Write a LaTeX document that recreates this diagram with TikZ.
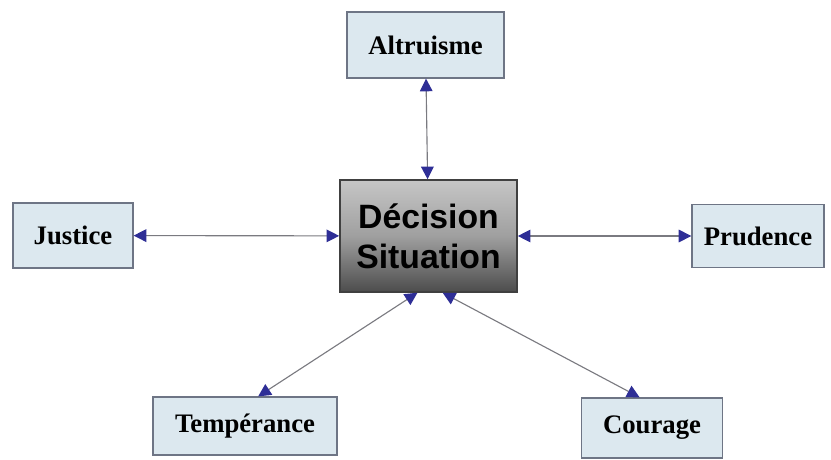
\documentclass[tikz,border=0pt]{standalone}
\usepackage{fontspec}
\setmainfont{Liberation Serif}
\setsansfont{Liberation Sans}
\usetikzlibrary{arrows.meta}
\definecolor{BoxBlue}{HTML}{DCE8EF}
\definecolor{BoxLine}{HTML}{6E7585}
\definecolor{TipBlue}{HTML}{2E2E96}
\definecolor{LineGray}{HTML}{7A7A80}
\tikzset{
  virtue/.style={draw=BoxLine, line width=0.9pt, fill=BoxBlue, font=\fontsize{19}{22}\selectfont\bfseries, inner sep=2pt},
  link/.style={LineGray, line width=0.8pt, {Triangle[color=TipBlue, length=9pt, width=9pt]}-{Triangle[color=TipBlue, length=9pt, width=9pt]}}
}
\begin{document}
\begin{tikzpicture}[x=0.025cm, y=-0.025cm]
                \useasboundingbox (0,0) rectangle (831,460);
                % Centre
                \node[draw=black!75, line width=1pt, top color=gray!45, bottom color=black!70, middle color=gray!75, minimum width=4.43cm, minimum height=2.8cm, align=center, font=\sffamily\bfseries\fontsize{24}{28.5}\selectfont] (dec) at (428.5, 236) {Décision\\Situation};
                
                % Virtues
                \node[virtue, minimum width=3.93cm, minimum height=1.65cm] (alt) at (425.5, 45) {Altruisme};
                
                \node[virtue, minimum width=3.0cm, minimum height=1.63cm] (jus) at (73, 235.5) {Justice};
                
                \node[virtue, minimum width=3.3cm, minimum height=1.58cm] (pru) at (758, 236) {Prudence};
                
                \node[virtue, minimum width=4.6cm, minimum height=1.45cm] (temp) at (245, 426) {Tempérance};
                
                \node[virtue, minimum width=3.53cm, minimum height=1.5cm] (cour) at (652, 428) {Courage};
                
                % Arrows
                \draw[link] (alt) -- (dec);
                \draw[link] (jus) -- (dec);
                \draw[link] (dec) -- (pru);
                \draw[link] (dec.259) -- (temp.66);
                \draw[link] (dec.284.5) -- (cour.112);
            \end{tikzpicture}
\end{document}
